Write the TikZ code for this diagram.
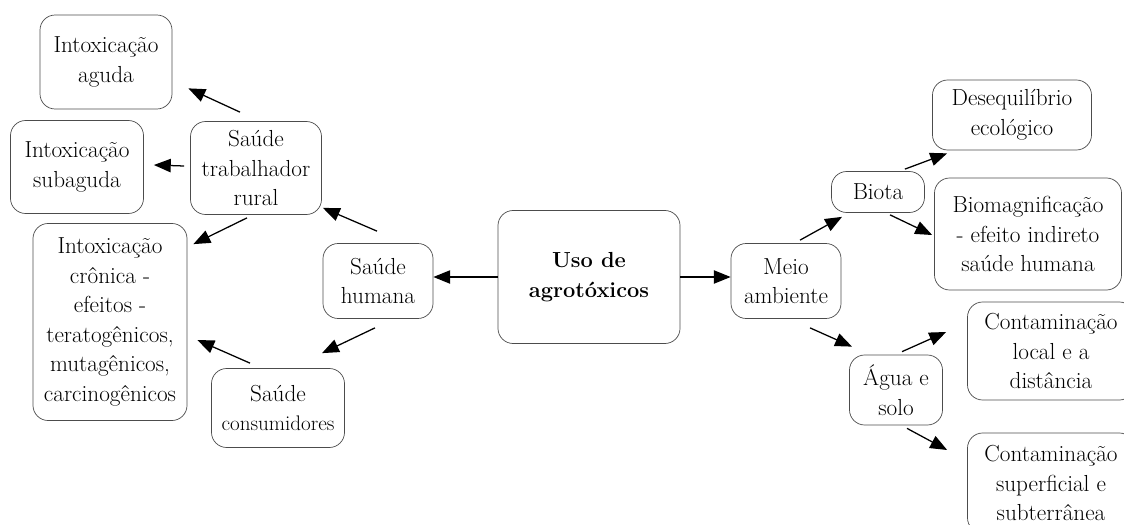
\documentclass[tikz,border=0pt]{standalone}
\usetikzlibrary{arrows.meta}
\begin{document}
\begin{tikzpicture}[x=0.025cm, y=-0.025cm,
  caixa/.style={draw=black!70, line width=0.5pt, rounded corners=0.38cm,
    align=center, inner sep=1pt, font=\fontsize{16.5}{21}\selectfont},
  seta/.style={-{Triangle[length=12pt,width=9.5pt]}, line width=0.9pt}]
\clip (0,0) rectangle (1124,525);

% Centro
\node[caixa, minimum width=4.55cm, minimum height=3.325cm,
  font=\fontsize{15.5}{21}\selectfont\bfseries] (uso) at (589,277) {Uso de\\agrotóxicos};

% Saúde humana - lado esquerdo
\node[caixa, minimum width=2.75cm, minimum height=1.875cm] (humana) at (378,281) {Saúde\\humana};
\node[caixa, minimum width=3.275cm, minimum height=2.325cm] (trab) at (256,168) {Saúde\\trabalhador\\rural};
\node[caixa, minimum width=3.325cm, minimum height=1.975cm] (cons) at (278,408)
  {Saúde\\{\fontsize{15}{21}\selectfont consumidores}};
\node[caixa, minimum width=3.3cm, minimum height=2.35cm] (aguda) at (106,62) {Intoxicação\\aguda};
\node[caixa, minimum width=3.325cm, minimum height=2.325cm] (subaguda) at (77,167) {Intoxicação\\subaguda};
\node[caixa, minimum width=3.85cm, minimum height=4.925cm] (cronica) at (110,322)
  {Intoxicação\\crônica -\\efeitos -\\teratogênicos,\\mutagênicos,\\carcinogênicos};

% Meio ambiente - lado direito
\node[caixa, minimum width=2.75cm, minimum height=1.875cm] (meio) at (786,281) {Meio\\ambiente};
\node[caixa, minimum width=2.325cm, minimum height=1.025cm] (biota) at (878,192) {Biota};
\node[caixa, minimum width=2.325cm, minimum height=1.75cm] (agua) at (896,390) {Água e\\solo};
\node[caixa, minimum width=3.975cm, minimum height=1.75cm] (deseq) at (1012,115) {Desequilíbrio\\ecológico};
\node[caixa, minimum width=4.675cm, minimum height=2.8cm] (biomag) at (1028,234)
  {Biomagnificação\\- efeito indireto\\saúde humana};
\node[caixa, minimum width=4.175cm, minimum height=2.45cm] (cloc) at (1051,351)
  {Contaminação\\local e a\\distância};
\node[caixa, minimum width=4.175cm, minimum height=2.5cm] (csup) at (1051,483)
  {Contaminação\\superficial e\\subterrânea};

% Setas
\draw[seta] (uso.west) -- (uso.west -| humana.east);
\draw[seta] (uso.east) -- (uso.east -| meio.west);
\draw[seta] ([shift={(-1,-12)}]humana.north) -- ([shift={(1,-7)}]trab.south east);
\draw[seta] ([shift={(-3,9)}]humana.south) -- ([shift={(44,-15)}]cons.north);
\draw[seta] ([shift={(-16,-9)}]trab.north) -- ([shift={(16,-21)}]aguda.south east);
\draw[seta] ([shift={(-6,-2)}]trab.west) -- ([shift={(10,-2)}]subaguda.east);
\draw[seta] ([shift={(-9,3)}]trab.south) -- ([shift={(6,21)}]cronica.north east);
\draw[seta] ([shift={(-28,-5)}]cons.north) -- ([shift={(10,18)}]cronica.east);
\draw[seta] ([shift={(14,-3)}]meio.north) -- ([shift={(-36,4)}]biota.south);
\draw[seta] ([shift={(24,9)}]meio.south) -- ([shift={(-44,-8)}]agua.north);
\draw[seta] ([shift={(-20,-2)}]biota.north east) -- ([shift={(15,3)}]deseq.south west);
\draw[seta] ([shift={(12,2)}]biota.south) -- ([shift={(-2,1)}]biomag.west);
\draw[seta] ([shift={(6,-3)}]agua.north) -- ([shift={(-21,-19)}]cloc.west);
\draw[seta] ([shift={(11,3)}]agua.south) -- ([shift={(-20,-33)}]csup.west);
\end{tikzpicture}
\end{document}
